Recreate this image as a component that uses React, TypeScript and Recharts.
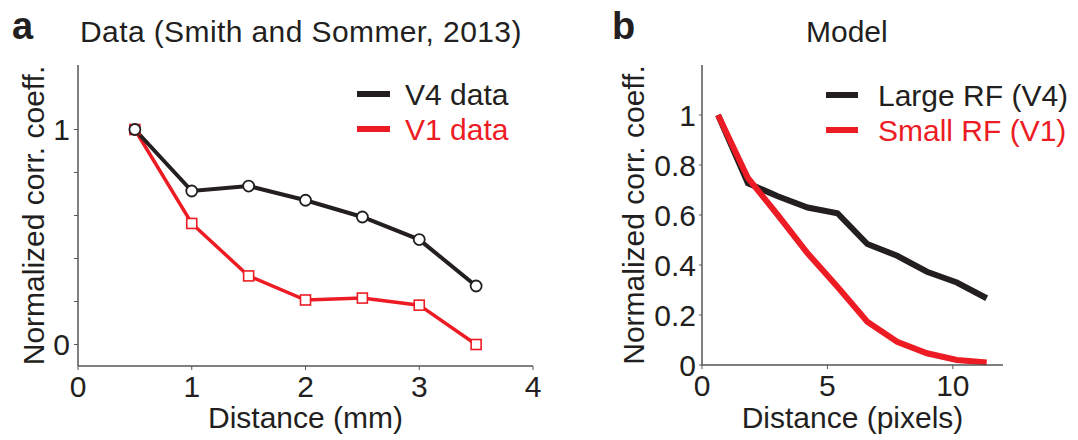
import React from 'react';
import { LineChart, Line, XAxis, YAxis } from 'recharts';

// panel a: measured data
const distMm = [0.5, 1, 1.5, 2, 2.5, 3, 3.5];
const v4Data = [1, 0.714, 0.737, 0.671, 0.593, 0.488, 0.272];
const v1Data = [1, 0.563, 0.319, 0.207, 0.216, 0.183, 0.0];

// panel b: model
const distPx = [0.64, 1.83, 3.02, 4.21, 5.4, 6.59, 7.78, 8.97, 10.16, 11.35];
const largeRf = [1.0, 0.727, 0.675, 0.63, 0.607, 0.484, 0.437, 0.373, 0.33, 0.267];
const smallRf = [1.0, 0.748, 0.6, 0.447, 0.313, 0.173, 0.093, 0.047, 0.02, 0.01];

const mmTicks = [0, 1, 2, 3, 4];
const pxTicks = [0, 5, 10];
const corrTicksA = [0, 0.2, 0.4, 0.6, 0.8, 1];
const corrTicksB = [0, 0.2, 0.4, 0.6, 0.8, 1];

const BLACK = '#231f20';
const RED = '#ed1c24';
const AXIS = '#555555';
const FONT = '"Liberation Sans", Arial, sans-serif';
const FS = 30;

const dataA = distMm.map((x, i) => ({ x, v4: v4Data[i], v1: v1Data[i] }));
const dataB = distPx.map((x, i) => ({ x, large: largeRf[i], small: smallRf[i] }));

const tickStyle = { fill: BLACK, fontSize: FS, fontFamily: FONT };
const labelStyle = { fill: BLACK, fontSize: FS, fontFamily: FONT };

const SquareDot = (props: any) => {
  const { cx, cy, index } = props;
  if (cx == null || cy == null) return null;
  return (
    <rect key={`sq-${index}`} x={cx - 5} y={cy - 5} width={10} height={10}
      fill="#fff" stroke={RED} strokeWidth={1.6} />
  );
};

const CircleDot = (props: any) => {
  const { cx, cy, index } = props;
  if (cx == null || cy == null) return null;
  return <circle key={`ci-${index}`} cx={cx} cy={cy} r={5.5} fill="#fff" stroke={BLACK} strokeWidth={1.8} />;
};

const App: React.FC = () => {
  return (
    <div style={{ position: 'relative', width: 1078, height: 440, background: '#fff', fontFamily: FONT }}>
      <style>{`body{margin:0}`}</style>

      <div style={{ position: 'absolute', left: 0, top: 0 }}>
        <LineChart width={545} height={440} data={dataA} margin={{ top: 65, right: 12, bottom: 0, left: 0 }}>
          <XAxis
            dataKey="x" type="number" domain={[0, 4]} ticks={mmTicks} height={74}
            tickSize={4} tickMargin={6} tick={tickStyle}
            axisLine={{ stroke: AXIS, strokeWidth: 1.5 }} tickLine={{ stroke: AXIS }}
            label={{ value: 'Distance (mm)', position: 'insideBottom', offset: 12, style: labelStyle }}
          />
          <YAxis
            type="number" domain={[-0.1, 1.3]} ticks={corrTicksA} width={78}
            tickFormatter={(v: number) => (v === 0 || v === 1 ? String(v) : '')}
            tickSize={4} tickMargin={4} tick={tickStyle}
            axisLine={{ stroke: AXIS, strokeWidth: 1.5 }} tickLine={{ stroke: AXIS }}
            label={{ value: 'Normalized corr. coeff.', angle: -90, position: 'center', dx: -6, style: labelStyle }}
          />
          <Line dataKey="v1" stroke={RED} strokeWidth={3.5} dot={SquareDot} isAnimationActive={false} />
          <Line dataKey="v4" stroke={BLACK} strokeWidth={4} dot={CircleDot} isAnimationActive={false} />
        </LineChart>
      </div>

      <div style={{ position: 'absolute', left: 540, top: 0 }}>
        <LineChart width={538} height={440} data={dataB} margin={{ top: 65, right: 75, bottom: 0, left: 0 }}>
          <XAxis
            dataKey="x" type="number" domain={[0, 12]} ticks={pxTicks} height={75}
            tickSize={4} tickMargin={6} tick={tickStyle}
            axisLine={{ stroke: AXIS, strokeWidth: 1.5 }} tickLine={{ stroke: AXIS }}
            label={{ value: 'Distance (pixels)', position: 'insideBottom', offset: 12, style: labelStyle }}
          />
          <YAxis
            type="number" domain={[0, 1.2]} ticks={corrTicksB} width={162}
            tickFormatter={(v: number) => (v === 0 || v === 1 ? String(v) : v.toFixed(1))}
            tickSize={3} tickMargin={3} tick={tickStyle}
            axisLine={{ stroke: AXIS, strokeWidth: 1.5 }} tickLine={{ stroke: AXIS }}
            label={{ value: 'Normalized corr. coeff.', angle: -90, position: 'center', dx: 12, style: labelStyle }}
          />
          <Line dataKey="large" stroke={BLACK} strokeWidth={6} dot={false} isAnimationActive={false} />
          <Line dataKey="small" stroke={RED} strokeWidth={6} dot={false} isAnimationActive={false} />
        </LineChart>
      </div>

      <svg width={1078} height={440} style={{ position: 'absolute', left: 0, top: 0, pointerEvents: 'none' }}>
        <g fontFamily={FONT}>
          <text x={12} y={39} fontSize={38} fontWeight="bold" fill={BLACK}>a</text>
          <text x={80} y={42} fontSize={FS} fill={BLACK} letterSpacing={0.4}>Data (Smith and Sommer, 2013)</text>
          <text x={612} y={39} fontSize={38} fontWeight="bold" fill={BLACK}>b</text>
          <text x={806} y={42} fontSize={FS} fill={BLACK}>Model</text>

          <line x1={357} x2={390} y1={94} y2={94} stroke={BLACK} strokeWidth={6} />
          <text x={405} y={105} fontSize={FS} fill={BLACK}>V4 data</text>
          <line x1={357} x2={390} y1={129} y2={129} stroke={RED} strokeWidth={6} />
          <text x={405} y={140} fontSize={FS} fill={RED}>V1 data</text>

          <line x1={826} x2={858} y1={95} y2={95} stroke={BLACK} strokeWidth={6} />
          <text x={878} y={106} fontSize={FS} fill={BLACK}>Large RF (V4)</text>
          <line x1={826} x2={858} y1={130} y2={130} stroke={RED} strokeWidth={6} />
          <text x={878} y={141} fontSize={FS} fill={RED}>Small RF (V1)</text>
        </g>
      </svg>
    </div>
  );
};

export default App;
